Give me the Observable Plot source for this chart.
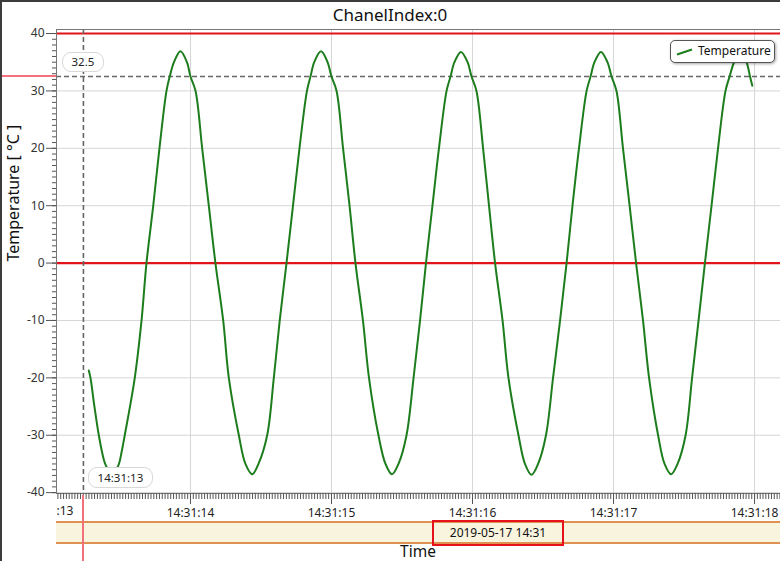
<!DOCTYPE html>
<html><head><meta charset="utf-8">
<script src="https://cdn.jsdelivr.net/npm/d3@7"></script>
<script src="https://cdn.jsdelivr.net/npm/@observablehq/plot@0.6"></script>
<style>
body{margin:0;background:#fff;font-family:"Noto Sans","DejaVu Sans",sans-serif;}
#wrap{position:relative;width:780px;height:561px;overflow:hidden;background:#fff;}
#title{height:28px;line-height:30px;text-align:center;font-size:17px;color:#111;}
#chart svg{display:block;}
.abs{position:absolute;box-sizing:border-box;}
#band{left:56px;top:521px;width:724px;height:23px;background:#f8f4dd;border-top:2px solid #de9150;border-bottom:2px solid #de9150;}
#datebox{top:520px;width:132px;height:26px;border:2.5px solid #e5121b;font-size:12px;line-height:21px;text-align:center;color:#111;}
#xlabel{top:543px;width:44px;height:17px;text-align:center;font-size:15.5px;line-height:16px;color:#111;white-space:nowrap;}
.cur{background:#fff;border:1px solid #d8d8d8;border-radius:9px;font-size:11.5px;text-align:center;color:#222;}
.pink{background:#f2717d;}
#legend{left:670px;top:40px;width:105px;height:23px;background:#fff;border:1px solid #555;border-radius:5px;box-shadow:1px 1px 3px rgba(0,0,0,0.35);font-size:12px;line-height:20px;color:#111;}
#legend svg{position:absolute;left:5px;top:7px;}
#legend span{position:absolute;left:27px;top:0px;}
#win{left:0;top:0;width:780px;height:561px;border-left:2px solid #3c3c3c;border-top:2px solid #3c3c3c;pointer-events:none;}
</style></head><body>
<div id="wrap">
  <div id="title">ChanelIndex:0</div>
  <div id="chart"></div>
</div>
<script>
// ---- data (ms after 14:31:13.000 on 2019-05-17) ----
const baseTime = Date.UTC(2019, 4, 17, 14, 31, 13);
const timeMs = [
  279, 291, 319, 350, 383, 399, 445, 491, 511, 534, 605, 653, 688, 736, 780, 830, 853, 883, 929,
  975, 1000, 1036, 1083, 1130, 1177, 1232, 1272, 1343, 1390, 1438,
  1482, 1544, 1591, 1633, 1681, 1727, 1773, 1826, 1851, 1879, 1926,
  1972, 2000, 2036, 2082, 2128, 2170, 2223, 2266, 2333, 2383, 2429,
  2475, 2532, 2582, 2628, 2670, 2716, 2762, 2816, 2844, 2872, 2918,
  2965, 2993, 3028, 3075, 3117, 3160, 3213, 3255, 3326, 3372, 3418,
  3465, 3521, 3571, 3621, 3667, 3709, 3755, 3809, 3837, 3865, 3911,
  3957, 3986, 4021, 4067, 4114, 4160, 4209, 4252, 4316, 4362, 4408,
  4454, 4511, 4557, 4603, 4648, 4695, 4741, 4794, 4823, 4855, 4901,
  4943, 4968, 4984
];
const temperature = [
  -18.7, -20, -25, -30, -34, -35.2, -36.9, -35.1, -33, -30, -20, -10, 0, 10, 20, 30, 32.5, 35, 36.9,
  35, 32.5, 30, 20, 10, 0, -10, -20, -30, -35, -36.8,
  -35, -30, -20, -10, 0, 10, 20, 30, 32.5, 35.1, 36.9,
  35, 32.5, 30, 20, 10, 0, -10, -20, -30, -35, -36.8,
  -35, -30, -20, -10, 0, 10, 20, 30, 32.5, 35, 36.8,
  35, 32.5, 30, 20, 10, 0, -10, -20, -30, -35, -36.9,
  -35, -30, -20, -10, 0, 10, 20, 30, 32.5, 35, 36.8,
  35, 32.5, 30, 20, 10, 0, -10, -20, -30, -35, -36.8,
  -35, -30, -20, -10, 0, 10, 20, 30, 32.5, 35, 36.8,
  35, 32.5, 30.9
];
const xTickSeconds = [14, 15, 16, 17, 18];
const yTicks = [-40, -30, -20, -10, 0, 10, 20, 30, 40];
const limitLines = [40, 0];
const cursorMs = 241;
const cursorValue = 32.5;
const xDomainMs = [50, 5184];
const yDomain = [-40.15, 40.7];
const seriesName = "Temperature";
const dateLabel = "2019-05-17 14:31";
const clippedTickLabel = ":13";

// ---- build ----
const data = timeMs.map((ms, i) => ({time: new Date(baseTime + ms), value: temperature[i]}));
const atMs = ms => new Date(baseTime + ms);
const xMajor = xTickSeconds.map(s => atMs((s - 13) * 1000));
const xMinor = d3.utcMillisecond.every(20).range(atMs(xDomainMs[0]), atMs(xDomainMs[1]));
const yMinor = d3.range(-40, 41, 1);
const cursorTime = atMs(cursorMs);
const fmt = d3.utcFormat("%H:%M:%S");

const plot = Plot.plot({
  width: 780, height: 491,
  marginTop: 1, marginBottom: 26, marginLeft: 56, marginRight: 0,
  style: {fontFamily: "'Noto Sans', 'DejaVu Sans', sans-serif", fontSize: "12px", color: "#333", background: "transparent", overflow: "visible"},
  x: {type: "utc", domain: [atMs(xDomainMs[0]), atMs(xDomainMs[1])], axis: null},
  y: {domain: yDomain, axis: null},
  marks: [
    Plot.gridX(xMajor, {stroke: "#d6d6d6", strokeOpacity: 1}),
    Plot.gridY(yTicks, {stroke: "#d6d6d6", strokeOpacity: 1}),
    Plot.ruleY(limitLines, {stroke: "#e0141a", strokeWidth: 2.2}),
    Plot.ruleY([cursorValue], {stroke: "#666", strokeWidth: 1.6, strokeDasharray: "5,3"}),
    Plot.ruleX([cursorTime], {stroke: "#666", strokeWidth: 1.6, strokeDasharray: "5,3"}),
    Plot.line(data, {x: "time", y: "value", stroke: "#1d7d1d", strokeWidth: 2, curve: "catmull-rom"}),
    Plot.frame({stroke: "#777"}),
    Plot.axisY(yMinor, {anchor: "left", tickSize: 4, text: null, stroke: "#555", label: null}),
    Plot.axisY(yTicks, {anchor: "left", tickSize: 10, tickPadding: 2, tickFormat: d => String(d), stroke: "#555", fill: "#333", label: null}),
    Plot.axisX(xMinor, {anchor: "bottom", tickSize: 6, text: null, stroke: "#555", label: null}),
    Plot.axisX(xMajor, {anchor: "bottom", tickSize: 11, tickPadding: 4, tickFormat: fmt, stroke: "#555", fill: "#222", label: null}),
    Plot.text([atMs(xDomainMs[0])], {x: d => d, text: () => clippedTickLabel, frameAnchor: "bottom", textAnchor: "start", dy: 21, fill: "#222"}),
    Plot.text(["Temperature [ °C ]"], {text: d => d, frameAnchor: "left", dx: -43, rotate: -90, fontSize: 16, fill: "#111"})
  ]
});
document.getElementById("chart").appendChild(plot);

// ---- overlays positioned with the plot's scales ----
const wrap = document.getElementById("wrap");
const svgTop = 28;
const xs = plot.scale("x"), ys = plot.scale("y");
const cx = xs.apply(cursorTime);
const cy = ys.apply(cursorValue) + svgTop;
const frameBottom = ys.apply(yDomain[0]) + svgTop;
const frameLeft = 56;
function add(id, cls, style, html) {
  const d = document.createElement("div");
  if (id) d.id = id;
  d.className = "abs " + (cls || "");
  Object.assign(d.style, style);
  if (html) d.innerHTML = html;
  wrap.appendChild(d);
  return d;
}
add("band", "", {});
add("datebox", "", {left: "432px"}, dateLabel);
add("xlabel", "", {left: ((frameLeft + 780) / 2 - 22) + "px"}, "Time");
add(null, "pink", {left: "0px", top: (cy - 1) + "px", width: frameLeft + "px", height: "2px"});
add(null, "pink", {left: (cx - 1) + "px", top: (frameBottom + 2) + "px", width: "2px", height: (561 - frameBottom) + "px"});
add(null, "cur", {left: (cx - 21) + "px", top: (cy - 24) + "px", width: "42px", height: "20px", lineHeight: "18px"}, String(cursorValue));
add(null, "cur", {left: (cx + 5) + "px", top: (frameBottom - 26) + "px", width: "65px", height: "21px", lineHeight: "19px"}, fmt(cursorTime));
add("legend", "", {}, '<svg width="18" height="8"><line x1="1" y1="6.5" x2="16" y2="1.5" stroke="#1d7d1d" stroke-width="2"/></svg><span>' + seriesName + '</span>');
add("win", "", {});
</script>
</body></html>
